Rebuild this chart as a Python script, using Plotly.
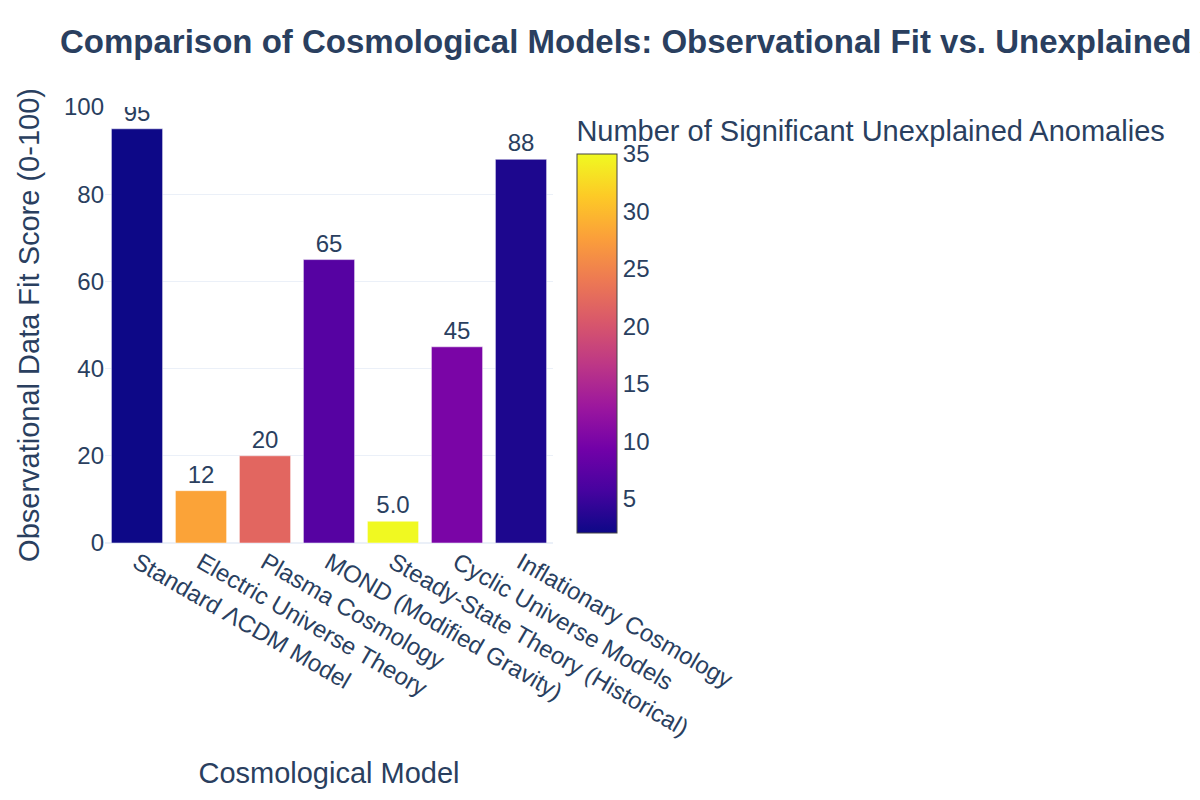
import plotly.graph_objects as go

models = [
    "Standard ΛCDM Model",
    "Electric Universe Theory",
    "Plasma Cosmology",
    "MOND (Modified Gravity)",
    "Steady-State Theory (Historical)",
    "Cyclic Universe Models",
    "Inflationary Cosmology",
]
fit_scores = [95, 12, 20, 65, 5, 45, 88]
anomalies = [2, 28, 22, 7, 35, 10, 3]

fig = go.Figure(
    go.Bar(
        x=models,
        y=fit_scores,
        marker=dict(
            color=anomalies,
            colorscale="Plasma",
            cmin=min(anomalies),
            cmax=max(anomalies),
            colorbar=dict(
                title=dict(text="Number of Significant Unexplained Anomalies"),
                thickness=40,
                x=1.031,
            ),
        ),
        texttemplate="%{y:.2s}",
        textposition="outside",
    )
)

fig.update_layout(
    template="plotly_white",
    width=1200,
    height=800,
    margin=dict(l=105, r=647, t=107, b=257),
    font=dict(family="Arial", size=24, color="#2a3f5f"),
    title=dict(
        text="<b>Comparison of Cosmological Models: Observational Fit vs. Unexplained Anomalies</b>",
        font=dict(size=33),
        x=0.05,
        y=0.948,
        yanchor="middle",
    ),
    xaxis=dict(title=dict(text="Cosmological Model", standoff=22), tickangle=30),
    yaxis=dict(title=dict(text="Observational Data Fit Score (0-100)"), range=[0, 100]),
)

fig.write_html("out.html")
